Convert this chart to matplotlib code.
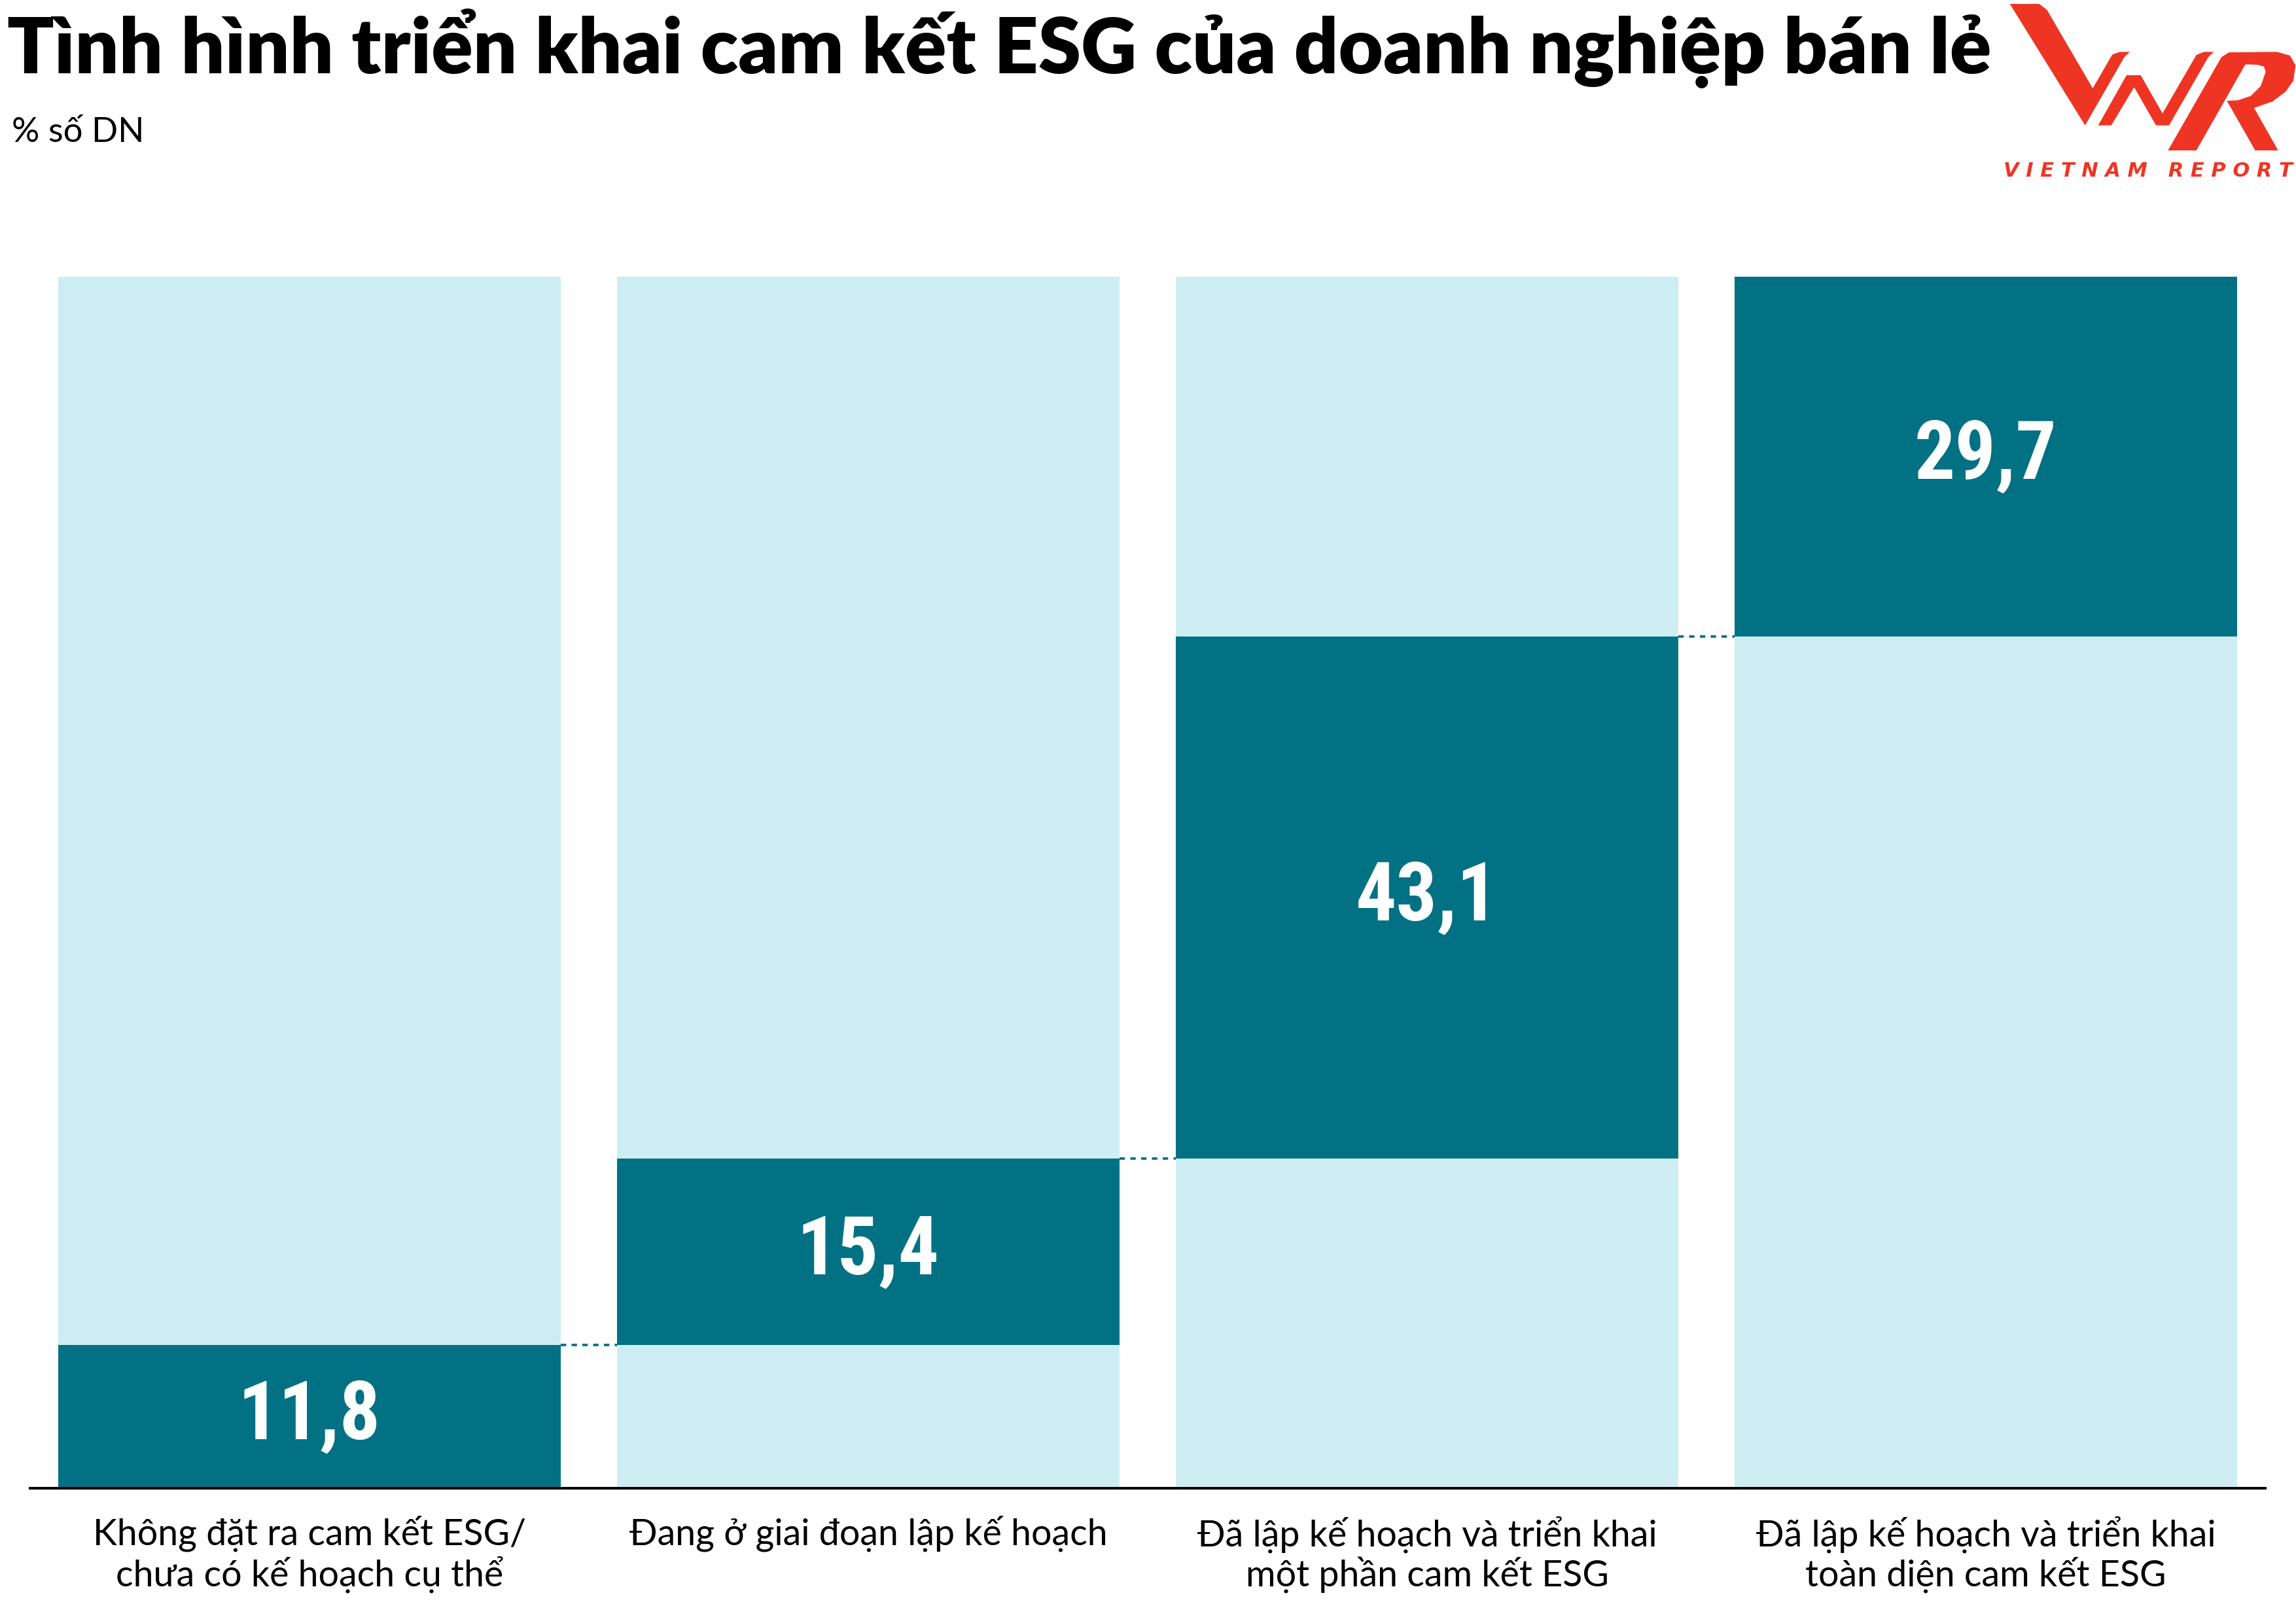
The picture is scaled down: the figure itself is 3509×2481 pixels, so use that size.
import matplotlib
matplotlib.use("Agg")
import matplotlib.pyplot as plt
from matplotlib.patches import Polygon
import numpy as np

# data
categories = ["Không đặt ra cam kết ESG/\nchưa có kế hoạch cụ thể",
              "Đang ở giai đoạn lập kế hoạch",
              "Đã lập kế hoạch và triển khai\nmột phần cam kết ESG",
              "Đã lập kế hoạch và triển khai\ntoàn diện cam kết ESG"]
values = [11.8, 15.4, 43.1, 29.7]
value_labels = ["11,8", "15,4", "43,1", "29,7"]
total = 100

dark = "#037184"
light = "#CEEDF2"
red = "#EE3524"

W, H = 3509, 2481
fig = plt.figure(figsize=(W / 100, H / 100), dpi=100)
fig.patch.set_facecolor("white")

ax = fig.add_axes([46 / W, 1 - 2275 / H, 3416 / W, (2275 - 423) / H])
x = np.arange(len(values))
tops = np.cumsum(values)
bottoms = tops - np.array(values)

ax.bar(x, [total] * len(values), width=0.9, color=light, zorder=1)
ax.bar(x, values, bottom=bottoms, width=0.9, color=dark, zorder=2)

# dotted connectors between steps
for i in range(len(values) - 1):
    ax.plot([x[i] + 0.45, x[i + 1] - 0.45], [tops[i], tops[i]], color=dark,
            lw=2.7, ls=(0, (2.2, 2.2)), zorder=3)

for i, v in enumerate(values):
    ax.text(x[i], bottoms[i] + v / 2, value_labels[i], ha="center", va="center",
            color="white", fontsize=89, fontweight="bold",
            family=["Roboto Condensed", "Liberation Sans Narrow", "DejaVu Sans"],
            fontstretch="condensed", zorder=4)

ax.set_xlim(-0.5, len(values) - 0.5)
ax.set_ylim(0, total)
for s in ["top", "left", "right"]:
    ax.spines[s].set_visible(False)
ax.spines["bottom"].set_linewidth(2.9)
ax.spines["bottom"].set_color("black")
ax.spines["bottom"].set_zorder(5)
ax.set_yticks([])
ax.set_xticks([])

lab_tr = matplotlib.transforms.blended_transform_factory(ax.transData, fig.transFigure)
for i, c in enumerate(categories):
    ax.text(x[i], 1 - 2317 / H, c, transform=lab_tr, ha="center", va="top",
            fontsize=40, family=["Lato", "DejaVu Sans"], linespacing=1.13, color="black")

# title and unit
fig.text(11 / W, 1 - 112 / H, "Tình hình triển khai cam kết ESG của doanh nghiệp bán lẻ",
         ha="left", va="baseline", fontsize=85, fontweight="heavy",
         family=["Lato", "DejaVu Sans"], color="black")
fig.text(18 / W, 1 - 217 / H, "% số DN", ha="left", va="baseline", fontsize=38,
         family=["Lato", "DejaVu Sans"], color="black")

# logo
lg = fig.add_axes([3000 / W, 1 - 300 / H, 509 / W, 300 / H])
lg.set_xlim(0, 1527)
lg.set_ylim(900, 0)
lg.axis("off")
v_shape = [(215, 18), (350, 18), (385, 45), (595, 405), (685, 250), (720, 238), (765, 238),
           (740, 262), (560, 575)]
n_shape = [(620, 575), (750, 345), (815, 345), (915, 520), (1070, 252), (1105, 238), (1150, 238),
           (1125, 262), (945, 575), (885, 575), (785, 400), (680, 575)]
r_shape = [(940, 690), (1185, 262), (1220, 240), (1440, 238), (1500, 255), (1525, 300),
           (1515, 370), (1480, 420), (1420, 465), (1335, 495), (1445, 690), (1340, 690),
           (1210, 462), (1260, 460), (1320, 440), (1365, 395), (1388, 330), (1380, 305),
           (1350, 297), (1295, 295), (1070, 690)]
for shp in [v_shape, n_shape, r_shape]:
    lg.add_patch(Polygon(shp, closed=True, color=red, lw=0))
lg.text(1510, 810, "V I E T N A M   R E P O R T", ha="right", va="baseline",
        fontsize=22, fontweight="bold", style="italic", color=red,
        family=["DejaVu Sans"])

fig.savefig("out.png", dpi=100)
